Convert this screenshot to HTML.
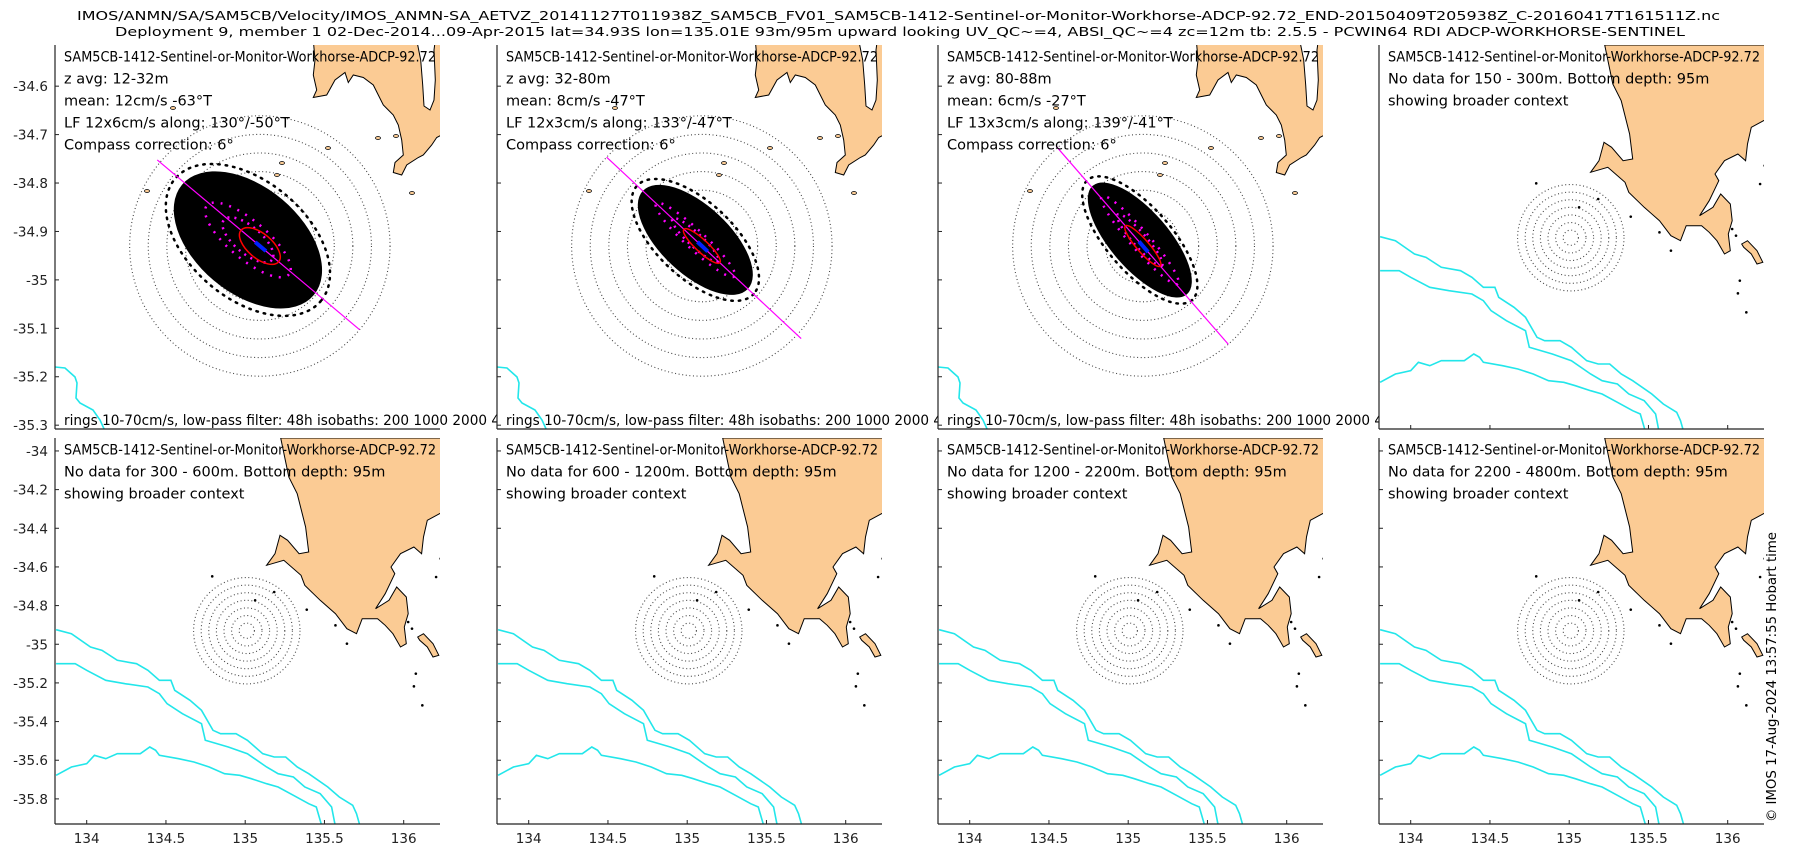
<!DOCTYPE html>
<html><head><meta charset="utf-8">
<style>
html,body{margin:0;padding:0;background:#fff;}
svg{display:block;font-family:"DejaVu Sans","Liberation Sans",sans-serif;}
</style></head>
<body>
<svg id="fig" width="1800" height="850" viewBox="0 0 1800 850" xmlns="http://www.w3.org/2000/svg">
<rect width="1800" height="850" fill="#fff"/>
<text x="77" y="20" font-size="12" textLength="1643" lengthAdjust="spacingAndGlyphs">IMOS/ANMN/SA/SAM5CB/Velocity/IMOS_ANMN-SA_AETVZ_20141127T011938Z_SAM5CB_FV01_SAM5CB-1412-Sentinel-or-Monitor-Workhorse-ADCP-92.72_END-20150409T205938Z_C-20160417T161511Z.nc</text>
<text x="115" y="36" font-size="12" textLength="1570" lengthAdjust="spacingAndGlyphs">Deployment 9, member 1 02-Dec-2014...09-Apr-2015 lat=34.93S lon=135.01E 93m/95m upward looking UV_QC~=4, ABSI_QC~=4 zc=12m tb: 2.5.5 - PCWIN64 RDI ADCP-WORKHORSE-SENTINEL</text>
<text transform="translate(1776,822) rotate(-90)" font-size="13" textLength="290" lengthAdjust="spacingAndGlyphs">© IMOS 17-Aug-2024 13:57:55 Hobart time</text>
</svg>
<script>
// ---- chart data ----
const panelTitle = "SAM5CB-1412-Sentinel-or-Monitor-Workhorse-ADCP-92.72";
const zRanges = ["12-32m", "32-80m", "80-88m"];
const meanSpeed = [12, 8, 6];
const meanDir = [-63, -47, -27];
const lfMajor = [12, 12, 13];
const lfMinor = [6, 3, 3];
const alongDeg = [130, 133, 139];
const alongTrue = [-50, -47, -41];
const cloudMajor = [55, 46, 46];
const cloudMinor = [31, 20, 17];
const axisNeg = [72, 70, 71];
const axisPos = [70, 73, 70];
const ringSpeeds = [10, 20, 30, 40, 50, 60, 70];
const noDataRanges = ["150 - 300m", "300 - 600m", "600 - 1200m", "1200 - 2200m", "2200 - 4800m"];
const topLatTicks = [-34.6, -34.7, -34.8, -34.9, -35, -35.1, -35.2, -35.3];
const broadLatTicks = [-34, -34.2, -34.4, -34.6, -34.8, -35, -35.2, -35.4, -35.6, -35.8];
const lonTicks = [134, 134.5, 135, 135.5, 136];
const siteLon = 135.01, siteLat = -34.93;

// ---- layout ----
const NS = "http://www.w3.org/2000/svg";
const svg = document.getElementById('fig');
const lefts = [55, 497, 938, 1379];
const W = 385;
const rows = [{top: 45, h: 384}, {top: 438, h: 386}];
const zoomExt = {lon0: 134.494, lat0: -34.515, pxLon: 397, pxLat: 484.3};
const broadExt = {lon0: 133.80, lat0: -33.933, pxLon: 158.5, pxLat: 193.3};
function xOf(ext, lon) { return (lon - ext.lon0) * ext.pxLon; }
function yOf(ext, lat) { return (ext.lat0 - lat) * ext.pxLat; }

function el(tag, attrs, parent) {
  const e = document.createElementNS(NS, tag);
  for (const k in attrs) e.setAttribute(k, attrs[k]);
  (parent || svg).appendChild(e);
  return e;
}

// land shapes (panel-relative, hand traced map geometry)
function zl(p) { return [195 + p[0]/3, (p[1]/3) * 1.5 - 5]; }
const zoomLand = [[190,0],[195,40],[190,70],[200,100],[190,115],[230,110],[255,80],[285,65],[295,85],[310,70],[340,75],[370,90],[385,110],[400,130],[415,140],[430,150],[445,170],[455,200],[460,230],[435,245],[430,265],[455,270],[470,250],[505,235],[520,230],[545,210],[560,195],[575,190],[575,0]].map(zl);
const zoomChannel = [[500,0],[512,40],[518,90],[522,132],[540,140],[552,120],[556,80],[552,20],[556,0]].map(zl);
const zoomIso = [[0,322],[10,323],[20,332],[22,338],[21,353],[25,358],[38,365],[45,375],[50,386]];
const zoomIslets = [[92,146],[273,103],[227,118],[222,130],[323,93],[341,91],[357,148],[118,63]];

function z2(p) { return [(p[0]-145)/2.613 + 3, (p[1]-173)/3]; }
const broadLand = [[727,173],[748,290],[770,340],[792,440],[800,515],[775,520],[745,480],[725,465],[712,520],[690,555],[735,540],[780,585],[790,615],[830,660],[870,700],[900,745],[925,760],[940,715],[980,715],[1000,735],[1020,760],[1040,800],[1055,790],[1050,740],[1060,700],[1055,650],[1030,620],[1010,660],[975,685],[1000,640],[1025,580],[1015,560],[1040,520],[1075,500],[1095,520],[1100,470],[1110,420],[1150,395],[1160,395],[1160,173]].map(z2);
const broadIsland = [[1085,770],[1100,760],[1125,790],[1140,825],[1125,830],[1110,800],[1090,780]].map(z2);
const isoA = [[140,748],[180,760],[230,800],[260,810],[300,840],[350,850],[380,870],[410,900],[440,900],[450,930],[490,960],[520,990],[550,1050],[570,1060],[610,1060],[640,1080],[680,1120],[710,1130],[740,1130],[770,1160],[800,1180],[850,1220],[880,1250],[915,1275],[925,1300],[935,1340]].map(z2);
const isoB = [[140,850],[190,850],[220,870],[270,900],[320,910],[380,920],[410,940],[430,970],[470,1000],[520,1030],[530,1080],[590,1100],[640,1120],[690,1160],[720,1180],[760,1190],[790,1220],[830,1240],[860,1280],[870,1340]].map(z2);
const isoC = [[140,1185],[180,1160],[220,1150],[240,1125],[270,1135],[300,1120],[360,1120],[385,1100],[400,1110],[410,1125],[460,1135],[500,1145],[540,1160],[580,1180],[620,1185],[650,1195],[690,1210],[720,1220],[760,1245],[800,1270],[820,1280],[835,1340]].map(z2);
const broadIslets = [[548,588],[660,660],[710,635],[795,688],[870,735],[900,790],[1080,880],[1075,918],[1097,975],[1145,535],[1133,590],[1060,725],[1070,745]].map(z2);

function pathD(pts, close) { return pts.map((p,i)=>(i?'L':'M')+p[0].toFixed(1)+','+p[1].toFixed(1)).join('') + (close?'Z':''); }

function drawPanel(idx, row, kind, lines, yTicks, showYLabels, showXLabels, bottomText) {
  const L = lefts[idx], T = rows[row].top, H = rows[row].h;
  const ext = kind === 'zoom' ? zoomExt : broadExt;
  const g = el('g', {transform: `translate(${L},${T})`});
  
  
  const cid = `clip-${row}-${idx}`;
  const cp = el('clipPath', {id: cid}, g);
  el('rect', {x: 0, y: 0, width: W, height: H}, cp);
  el('rect', {x: 0, y: 0, width: W, height: H, fill: '#fff'}, g);
  const m = el('g', {'clip-path': `url(#${cid})`}, g);
  
  
  const land = kind === 'zoom' ? zoomLand : broadLand;
  const lp = el('path', {d: pathD(land, true), fill: '#fbcb94', stroke: '#000', 'stroke-width': 1}, m);
  
  
  if (kind === 'zoom') {
    el('path', {d: pathD(zoomChannel, true), fill: '#fff', stroke: '#000', 'stroke-width': 1}, m);
    const iso = el('path', {d: pathD(zoomIso), fill: 'none', stroke: '#22e6ea', 'stroke-width': 1.6}, m);
    
    
    zoomIslets.forEach(p => el('ellipse', {cx: p[0], cy: p[1], rx: 2.5, ry: 1.5, fill: '#fbcb94', stroke: '#000', 'stroke-width': 0.8}, m));
  } else {
    el('path', {d: pathD(broadIsland, true), fill: '#fbcb94', stroke: '#000', 'stroke-width': 1}, m);
    [isoA, isoB, isoC].forEach((pts, k) => {
      const iso = el('path', {d: pathD(pts), fill: 'none', stroke: '#22e6ea', 'stroke-width': 1.6}, m);
      
      
    });
    broadIslets.forEach(p => el('circle', {cx: p[0], cy: p[1], r: 1.3, fill: '#000'}, m));
  }
  // rings
  const cx = xOf(ext, siteLon), cy = yOf(ext, siteLat);
  const ppc = kind === 'zoom' ? 1.86 : 0.76;
  ringSpeeds.forEach(s => {
    const c = el('circle', {cx: cx, cy: cy, r: s * ppc, fill: 'none', stroke: '#444', 'stroke-width': 1.1, 'stroke-dasharray': '1 2.6'}, m);
    
    
  });
  // velocity scatter
  if (kind === 'zoom') {
    const i = idx;
    const ang = (alongDeg[i] - 90);
    const rad = ang * Math.PI / 180;
    const mx = cx + meanSpeed[i] * Math.sin(meanDir[i]*Math.PI/180) * ppc * 0.6;
    const my = cy - meanSpeed[i] * Math.cos(meanDir[i]*Math.PI/180) * ppc * 0.6;
    const sc = el('g', {transform: `translate(${mx},${my}) rotate(${ang})`}, m);
    
    
    el('ellipse', {cx: 0, cy: 0, rx: cloudMajor[i]*ppc*0.93, ry: cloudMinor[i]*ppc*1.02, fill: 'none', stroke: '#000', 'stroke-width': 2.5, 'stroke-dasharray': '1.5 6', 'stroke-linecap': 'round'}, sc);
    el('ellipse', {cx: 0, cy: 0, rx: cloudMajor[i]*ppc*0.84, ry: cloudMinor[i]*ppc*0.92, fill: '#000'}, sc);
    el('ellipse', {cx: 0, cy: 0, rx: lfMajor[i]*ppc*2.4, ry: lfMinor[i]*ppc*1.7, fill: 'none', stroke: '#ff00ff', 'stroke-width': 2.5, 'stroke-dasharray': '2 7'}, sc);
    el('ellipse', {cx: 0, cy: 0, rx: lfMajor[i]*ppc*1.4, ry: lfMinor[i]*ppc*1.2, fill: 'none', stroke: '#ff00ff', 'stroke-width': 2.5, 'stroke-dasharray': '2 5'}, sc);
    const ax = el('line', {x1: cx - axisNeg[i]*ppc*Math.cos(rad), y1: cy - axisNeg[i]*ppc*Math.sin(rad), x2: cx + axisPos[i]*ppc*Math.cos(rad), y2: cy + axisPos[i]*ppc*Math.sin(rad), stroke: '#ff00ff', 'stroke-width': 1.2}, m);
    
    
    const lf = el('ellipse', {cx: 0, cy: 0, rx: lfMajor[i]*ppc*1.1, ry: lfMinor[i]*ppc*1.1, fill: 'none', stroke: '#ff0000', 'stroke-width': 1.5, transform: `translate(${cx},${cy}) rotate(${ang})`}, m);
    
    
    const bl = el('line', {x1: -6, y1: 0, x2: 8, y2: 0, stroke: '#0022ff', 'stroke-width': 4, transform: `translate(${cx},${cy}) rotate(${ang})`}, m);
    
    
  }
  // axes
  el('line', {x1: 0, y1: 0, x2: 0, y2: H, stroke: '#222', 'stroke-width': 1.2}, g);
  el('line', {x1: 0, y1: H, x2: W, y2: H, stroke: '#222', 'stroke-width': 1.2}, g);
  yTicks.forEach(v => {
    const y = yOf(ext, v);
    el('line', {x1: 0, y1: y, x2: 4, y2: y, stroke: '#222', 'stroke-width': 1}, g);
    if (showYLabels) {
      const t = el('text', {x: -7, y: y + 5, 'font-size': 13.5, 'text-anchor': 'end', fill: '#222'}, g);
      t.textContent = String(v);
      
      
    }
  });
  if (kind === 'broad') {
    lonTicks.forEach(v => {
      const x = xOf(ext, v);
      el('line', {x1: x, y1: H, x2: x, y2: H - 4, stroke: '#222', 'stroke-width': 1}, g);
      if (showXLabels) {
        const t = el('text', {x: x, y: H + 19, 'font-size': 13.5, 'text-anchor': 'middle', fill: '#222'}, g);
        t.textContent = String(v);
        
        
      }
    });
  }
  // text
  lines.forEach((s, k) => {
    const t = el('text', {x: 9, y: 16.5 + k * 22, 'font-size': 14.5, fill: '#000'}, g);
    if (k === 0) { t.setAttribute('textLength', 372); t.setAttribute('lengthAdjust', 'spacingAndGlyphs'); }
    t.textContent = s;
    
    
  });
  if (bottomText) {
    const t = el('text', {x: 9, y: H - 4, 'font-size': 14.5, fill: '#000', textLength: 462, lengthAdjust: 'spacingAndGlyphs'}, g);
    t.textContent = bottomText;
    
    
  }
}

for (let i = 0; i < 3; i++) {
  drawPanel(i, 0, 'zoom', [panelTitle, 'z avg: ' + zRanges[i], `mean: ${meanSpeed[i]}cm/s ${meanDir[i]}°T`, `LF ${lfMajor[i]}x${lfMinor[i]}cm/s along: ${alongDeg[i]}°/${alongTrue[i]}°T`, 'Compass correction: 6°'], topLatTicks, i === 0, false, 'rings 10-70cm/s, low-pass filter: 48h isobaths: 200 1000 2000 4000');
}
drawPanel(3, 0, 'broad', [panelTitle, `No data for ${noDataRanges[0]}. Bottom depth: 95m`, 'showing broader context'], [], false, false, null);
for (let i = 0; i < 4; i++) {
  drawPanel(i, 1, 'broad', [panelTitle, `No data for ${noDataRanges[i+1]}. Bottom depth: 95m`, 'showing broader context'], broadLatTicks, i === 0, true, null);
}
</script>
</body></html>
